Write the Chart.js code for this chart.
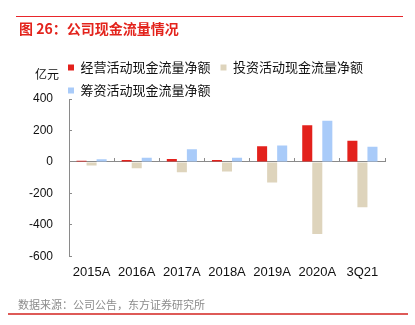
<!DOCTYPE html>
<html>
<head>
<meta charset="utf-8">
<script src="https://cdn.jsdelivr.net/npm/chart.js@4"></script>
<style>
  html, body { margin: 0; padding: 0; background: #fff; }
  #wrap { position: relative; width: 415px; height: 325px; overflow: hidden; }
  canvas { position: absolute; left: 0; top: 0; }
  .txt { position: absolute; white-space: nowrap; font-family: "Noto Sans CJK SC", "Liberation Sans", sans-serif; }
  #title { left: 19px; top: 20px; font-size: 14px; line-height: 16px; font-weight: bold; color: #E3231C; }
  #unit { left: 35px; top: 66px; font-size: 12px; line-height: 16px; color: #111; }
  #source { left: 18px; top: 297px; font-size: 11px; line-height: 14px; color: #8c8c8c; }
  #topline { position: absolute; left: 16px; top: 16px; width: 387px; height: 1px; background: #E8262B; }
  #botline { position: absolute; left: 8px; top: 313px; width: 400px; height: 2px; background: #DE5A57; }
</style>
</head>
<body>
<div id="wrap">
  <canvas id="c" width="415" height="325"></canvas>
  <div id="topline"></div>
  <div class="txt" id="title">图 26：公司现金流量情况</div>
  <div class="txt" id="unit">亿元</div>
  <div class="txt" id="source">数据来源：公司公告，东方证券研究所</div>
  <div id="botline"></div>
</div>
<script>
const categories = ['2015A', '2016A', '2017A', '2018A', '2019A', '2020A', '3Q21'];
const operatingCF = [8, 13, 19, 13, 100, 234, 134];
const investingCF = [-23, -40, -66, -60, -130, -457, -287];
const financingCF = [17, 26, 81, 26, 104, 262, 96];
const seriesNames = ['经营活动现金流量净额', '投资活动现金流量净额', '筹资活动现金流量净额'];
const yMin = -600, yMax = 400, yStep = 200;

const axisGray = '#8a8a8a';
const cjk = '"Noto Sans CJK SC", "Liberation Sans", sans-serif';
const latin = '"Liberation Sans", Arial, sans-serif';

// Align the legend's first box with the plot's left edge (as in the reference)
const legendNudge = {
  id: 'legendNudge',
  afterLayout(chart) {
    const lg = chart.legend;
    if (!lg) return;
    lg.left = chart.chartArea.left - 1 - lg.options.labels.padding;
  }
};

new Chart(document.getElementById('c'), {
  type: 'bar',
  data: {
    labels: categories,
    datasets: [
      { label: seriesNames[0], data: operatingCF, backgroundColor: '#E3211C' },
      { label: seriesNames[1], data: investingCF, backgroundColor: '#DED4BC' },
      { label: seriesNames[2], data: financingCF, backgroundColor: '#A9CBF9' }
    ]
  },
  plugins: [legendNudge],
  options: {
    responsive: false,
    animation: false,
    devicePixelRatio: 1,
    layout: { padding: { left: 19, right: 30, top: 51, bottom: 37 } },
    datasets: { bar: { categoryPercentage: 0.667, barPercentage: 1.0, borderWidth: 0 } },
    plugins: {
      tooltip: { enabled: false },
      title: { display: false },
      legend: {
        display: true,
        position: 'top',
        align: 'start',
        fullSize: true,
        maxHeight: 48,
        labels: {
          boxWidth: 6,
          boxHeight: 6,
          padding: 10,
          color: '#111',
          font: { family: cjk, size: 13 }
        }
      }
    },
    scales: {
      x: {
        type: 'category',
        position: 'bottom',
        offset: true,
        grid: { display: false, drawTicks: false, offset: true },
        border: { display: false },
        ticks: { color: '#111', padding: 8, font: { family: latin, size: 13 }, maxRotation: 0, autoSkip: false }
      },
      x2: {
        type: 'category',
        axis: 'x',
        labels: categories,
        position: { y: 0 },
        offset: true,
        grid: { display: true, drawOnChartArea: false, drawTicks: true, tickLength: -4, offset: true, color: axisGray, lineWidth: 1 },
        border: { display: true, color: axisGray, width: 1 },
        ticks: { display: false }
      },
      y: {
        type: 'linear',
        position: 'left',
        min: yMin,
        max: yMax,
        afterFit: (scale) => { scale.width = 50; },
        grid: { display: true, drawOnChartArea: false, drawTicks: true, tickLength: -3, color: axisGray, lineWidth: 1 },
        border: { display: true, color: axisGray, width: 1 },
        ticks: { stepSize: yStep, color: '#111', padding: 19, font: { family: latin, size: 12 } }
      }
    }
  }
});
</script>
</body>
</html>
